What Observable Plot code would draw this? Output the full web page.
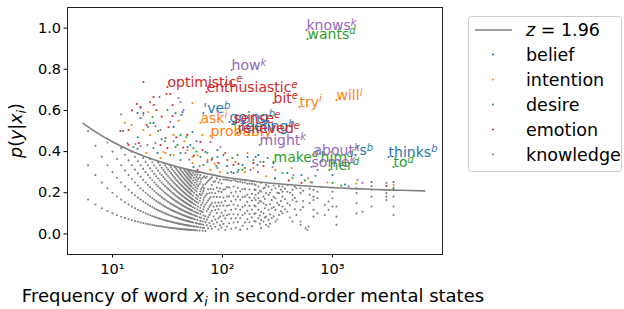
<!DOCTYPE html>
<html><head><meta charset="utf-8">
<script src="https://cdn.jsdelivr.net/npm/d3@7"></script>
<script src="https://cdn.jsdelivr.net/npm/@observablehq/plot@0.6"></script>
<style>
body{margin:0;background:#fff;font-family:"DejaVu Sans",sans-serif;}
#wrap{position:relative;width:624px;height:309px;}
</style></head><body><div id="wrap"></div>
<script>
const categories = ["belief","intention","desire","emotion","knowledge"];
const categoryColors = ["#1f77b4","#ff7f0e","#2ca02c","#d62728","#9467bd"];
const categoryMarks = ["b","i","d","e","k"];

const xTicks = [10, 100, 1000];
const xTickLabels = ["10¹", "10²", "10³"];
const yTicks = [0, 0.2, 0.4, 0.6, 0.8, 1.0];

// z = 1.96 threshold curve
const thresholdFreq = [5.4, 7, 10, 15, 20, 30, 50, 75, 100, 150, 200, 300, 500, 750, 1000, 1500, 2000, 3000, 5000, 6900];
const thresholdP = [0.537, 0.496, 0.448, 0.402, 0.375, 0.343, 0.311, 0.291, 0.278, 0.264, 0.255, 0.245, 0.235, 0.229, 0.225, 0.220, 0.218, 0.214, 0.211, 0.209];

// grey (non-significant) words: frequency and the highest count present for low frequencies
const graySmallFreq = [6,7,8,9,10,11,12,13,14,15,16,17,18,19,20,21,22,23,24,25,26,27,28,29,30,31,32,33,34,35,36,37,38,39,40,41,42,43,44,45,46,47,48,49,50,51,52];
const graySmallMaxCount = [3,3,3,4,4,4,5,5,5,6,6,6,6,7,7,7,8,8,8,8,9,9,9,10,10,10,10,11,11,11,11,12,12,12,12,13,13,13,13,14,14,14,15,15,15,15,16];
const grayMidCounts = [
  "53:1,3,4,6,8,9,11,13,15","54:2,3,5,7,9,10,12,14,16","55:1,2,4,6,8,11,13,15","56:2,4,5,7,9,12,14,16",
  "57:1,3,5,6,8,10,13,15,17","58:2,3,6,9,11,12,14,16","59:1,4,5,7,10,13,15,17","60:2,3,6,8,9,11,14,16,18",
  "62:1,3,5,7,10,12,15,17","63:2,4,6,8,11,13,16,18","64:3,5,7,9,12,14,17","66:1,2,4,7,10,13,15,18",
  "67:3,6,8,11,14,16","68:2,5,9,12,15,19","70:1,4,6,10,13,17,19","72:3,5,8,11,14,18,20",
  "74:2,6,9,12,16,19","76:4,7,10,13,15,20","78:3,8,11,14,17,21","80:2,5,9,12,16,19,22",
  "83:4,7,11,15,18,21","86:3,6,10,13,17,22","89:5,9,12,16,20,24","92:2,7,11,14,19,23",
  "95:4,8,13,17,21,25","98:3,6,10,15,20,24","102:5,9,14,18,22,27","106:2,8,12,17,23,28",
  "110:4,10,15,20,25,29","115:6,11,16,21,26,30","120:3,9,14,19,24,31","126:7,12,18,23,29,33",
  "132:4,10,16,22,27,34","138:8,13,19,25,31,35","145:3,11,17,24,30,37","152:6,14,20,27,33,38",
  "160:9,16,22,29,35,40","168:4,12,19,26,32,41","176:10,17,24,31,38,43","185:7,15,22,30,36,45",
  "195:12,19,27,34,42,47"
];
const grayHighPoints = [
  [200,.238],[200,.214],[200,.189],[200,.165],[200,.133],[200,.1],[200,.06],
  [212,.23],[212,.198],[212,.173],[212,.149],[212,.117],[212,.076],
  [218,.21],[218,.16],[218,.09],[218,.05],
  [224,.248],[224,.205],[224,.157],[224,.108],[224,.068],[224,.028],
  [236,.222],[236,.181],[236,.149],[236,.1],[236,.06],
  [243,.225],[243,.17],[243,.125],[243,.08],
  [249,.238],[249,.198],[249,.141],[249,.084],[249,.044],
  [262,.23],[262,.189],[262,.117],[262,.068],[262,.036],
  [270,.2],[270,.145],[270,.095],[270,.05],
  [280,.214],[280,.165],[280,.125],[280,.076],
  [292,.235],[292,.18],[292,.13],[292,.085],
  [303,.222],[303,.173],[303,.117],[303,.06],
  [315,.2],[315,.15],[315,.07],
  [326,.232],[326,.198],[326,.141],[326,.092],
  [340,.215],[340,.16],[340,.11],
  [351,.23],[351,.205],[351,.181],[351,.133],[351,.1],
  [370,.22],[370,.17],[370,.12],
  [389,.238],[389,.205],[389,.149],[389,.108],
  [410,.2],[410,.14],[410,.08],
  [433,.214],[433,.189],[433,.165],[433,.06],
  [455,.23],[455,.175],[455,.12],
  [470,.222],[470,.157],[470,.092],
  [512,.222],[512,.198],[512,.117],[512,.06],[512,.044],
  [540,.21],[540,.16],[540,.13],
  [569,.028],[590,.019],[605,.036],
  [620,.22],[620,.19],[620,.15],
  [672,.214],[672,.181],[672,.165],[672,.117],[672,.084],
  [731,.205],[731,.173],[731,.1],
  [850,.141],[850,.092],[920,.157],[920,.117],
  [1000,.205],[1000,.173],[1000,.133],
  [1087,.133],[1087,.084],[1087,.044],
  [1652,.222],[1652,.198],[1652,.149],[1652,.1],
  [1874,.108],
  [2264,.214],[2264,.181],[2264,.133],
  [3093,.214],[3093,.198],[3093,.181],[3093,.165],
  [3590,.214],[3590,.181],[3590,.133],[3590,.092]
];

// significant words per category: [frequency, p]
const beliefPoints = [[16.9,.587],[42.4,.578],[18,.563],[19.1,.587],[43.3,.592],[23.6,.539],[53.4,.495],[51.1,.432],[70,.398],[90,.374],[169,.374],[291,.345],[16.9,.414],[48,.422],[90,.408],[152,.335],[212,.383],[25.7,.393],[54.5,.325],[126,.296],[208,.335],[389,.296],[522,.286],[1000,.286],[2264,.252],[3590,.252],[200,.374],[12.5,.5],[28,.46],[36,.52],[58,.45],[110,.33],[140,.31],[300,.27],[650,.25],[1300,.24]];
const intentionPoints = [[24.1,.626],[19.1,.578],[14.9,.529],[21.2,.592],[53.4,.636],[19.1,.505],[35.9,.481],[65.8,.481],[29.1,.398],[48,.408],[53.4,.374],[73,.359],[131,.35],[191,.32],[30.3,.393],[35.9,.383],[59.3,.383],[111,.359],[169,.393],[20.4,.393],[27.3,.369],[53.4,.345],[77.7,.311],[303,.311],[424,.32],[631,.252],[3590,.238],[13,.54],[22,.48],[40,.55],[45,.45],[85,.34],[95,.3],[160,.3],[250,.28],[900,.25],[1650,.245]];
const desirePoints = [[37.4,.587],[23.1,.568],[31.6,.602],[22.1,.539],[41.5,.481],[38.9,.432],[41.5,.393],[63,.374],[137,.383],[257,.369],[152,.311],[15.5,.422],[23.6,.417],[37.4,.422],[54.5,.417],[73,.393],[81,.369],[102,.383],[123,.369],[137,.301],[191,.359],[33.6,.383],[41.5,.359],[67.2,.335],[111,.296],[236,.35],[351,.296],[433,.272],[1000,.248],[3590,.223],[17,.47],[26,.5],[30,.45],[47,.47],[58,.4],[88,.33],[160,.32],[300,.27],[560,.26],[1200,.235]];
const emotionPoints = [[19.1,.738],[23.6,.665],[31,.68],[33.6,.68],[16.6,.631],[25.1,.602],[35.1,.573],[20.4,.529],[18,.617],[35.1,.626],[14,.505],[11.8,.5],[48,.481],[63,.447],[30.3,.466],[106,.393],[191,.345],[17.4,.442],[14,.432],[27.3,.432],[31.6,.417],[65.8,.408],[92,.345],[126,.335],[59.3,.311],[236,.33],[522,.248],[3093,.233],[32.3,.519],[15,.6],[22,.64],[28,.57],[38,.47],[44,.42],[55,.38],[80,.36],[140,.34],[400,.26]];
const knowledgePoints = [[26.7,.665],[39.8,.66],[18,.612],[44.2,.602],[24.6,.524],[41.5,.64],[23.6,.626],[27.3,.505],[33.6,.544],[77.7,.447],[24.6,.442],[96,.422],[111,.359],[221,.35],[285,.325],[90,.32],[13.7,.44],[16.2,.437],[18,.427],[20.8,.432],[46.1,.393],[73,.35],[180,.311],[442,.286],[700,.282],[731,.311],[1688,.262],[1874,.248],[2264,.233],[3093,.248],[12,.58],[21,.52],[36,.45],[50,.36],[62,.33],[120,.3],[210,.3],[600,.27],[1400,.23]];

// labelled words
const labelWords = ["knows","wants","how","optimistic","enthusiastic","bit","try","will","'ve","ask","going","sense","probably","feeling","relieved","might","make","him","some","about","'s","her","thinks","to"];
const labelCategory = ["knowledge","desire","knowledge","emotion","emotion","emotion","intention","intention","belief","intention","belief","emotion","intention","belief","emotion","knowledge","desire","desire","knowledge","knowledge","belief","desire","belief","desire"];
const labelFreq = [580,593,121,31.6,71.6,291,501,1088,67,63,116,126,78,146,137,217,291,780,645,672,1620,940,3236,3590];
const labelP = [0.99,0.947,0.796,0.714,0.689,0.636,0.617,0.65,0.587,0.539,0.544,0.539,0.476,0.50,0.49,0.432,0.35,0.35,0.325,0.383,0.383,0.311,0.374,0.325];

// ---- build tables ----
const gray = [];
graySmallFreq.forEach((n, i) => { for (let k = 1; k <= graySmallMaxCount[i]; k++) gray.push({n, p: k / n}); });
grayMidCounts.forEach(s => { const [n, ks] = s.split(":"); ks.split(",").forEach(k => gray.push({n: +n, p: +k / +n})); });
grayHighPoints.forEach(([n, p]) => gray.push({n, p}));

const colored = [];
[["belief", beliefPoints], ["intention", intentionPoints], ["desire", desirePoints], ["emotion", emotionPoints], ["knowledge", knowledgePoints]]
  .forEach(([cat, pts]) => pts.forEach(([n, p]) => colored.push({n, p, cat})));

const threshold = thresholdFreq.map((n, i) => ({n, p: thresholdP[i]}));
const labels = labelWords.map((w, i) => ({word: w, cat: labelCategory[i], n: labelFreq[i], p: labelP[i],
  mark: categoryMarks[categories.indexOf(labelCategory[i])]}));

const plot = Plot.plot({
  width: 624, height: 309,
  marginLeft: 67, marginRight: 182, marginTop: 7, marginBottom: 55,
  style: {fontFamily: "DejaVu Sans", fontSize: "14px", background: "white", color: "black"},
  x: {type: "log", domain: [3.9, 10000]},
  y: {domain: [-0.1, 1.1]},
  color: {domain: categories, range: categoryColors},
  marks: [
    Plot.dot(gray, {x: "n", y: "p", r: 1.05, fill: "#808080", stroke: null}),
    Plot.dot(colored, {x: "n", y: "p", r: 1.05, fill: "cat", stroke: null}),
    Plot.line(threshold, {x: "n", y: "p", stroke: "#808080", strokeWidth: 1.6, curve: "monotone-x"}),
    Plot.dot(labels, {x: "n", y: "p", r: 1.05, fill: "cat", stroke: null}),
    Plot.text(labels, {x: "n", y: "p", text: d => d.word + "^" + d.mark, fill: "cat",
      textAnchor: "start", lineAnchor: "bottom", fontSize: 14}),
    Plot.axisX({ticks: xTicks, tickFormat: d => xTickLabels[xTicks.indexOf(d)], tickSize: 3.5, tickPadding: 6, label: null, fontSize: 14.5}),
    Plot.axisY({ticks: yTicks, tickFormat: d3.format(".1f"), tickSize: 3.5, tickPadding: 3, label: null, fontSize: 14.5}),
    Plot.frame({stroke: "#222", strokeWidth: 1})
  ]
});
document.getElementById("wrap").appendChild(plot);

const svg = d3.select(plot);
// superscripts on word labels
svg.selectAll("text").each(function () {
  const t = this.textContent;
  if (!t.includes("^")) return;
  const [w, s] = t.split("^");
  this.textContent = w;
  d3.select(this).append("tspan").attr("dy", "-0.45em").attr("font-size", "10px").attr("font-style", "italic").text(s);
});

// y label  p(y|x_i)
const yl = svg.append("text").attr("transform", "translate(22,130.5) rotate(-90)")
  .attr("text-anchor", "middle").attr("font-size", 17.5).attr("fill", "black");
yl.append("tspan").attr("font-style", "italic").text("p");
yl.append("tspan").text("(");
yl.append("tspan").attr("font-style", "italic").text("y");
yl.append("tspan").text("|");
yl.append("tspan").attr("font-style", "italic").text("x");
yl.append("tspan").attr("font-style", "italic").attr("font-size", 12.5).attr("dy", 4).text("i");
yl.append("tspan").attr("dy", -4).text(")");

// x label
const xl = svg.append("text").attr("x", 253).attr("y", 302).attr("text-anchor", "middle")
  .attr("font-size", 18).attr("fill", "black").style("white-space", "pre");
xl.append("tspan").text("Frequency of word ");
xl.append("tspan").attr("font-style", "italic").text("x");
xl.append("tspan").attr("font-style", "italic").attr("font-size", 12.5).attr("dy", 4).text("i");
xl.append("tspan").attr("dy", -4).text(" in second-order mental states");

// legend
const lg = svg.append("g").attr("font-size", 17.5).attr("fill", "black").attr("text-anchor", "start");
lg.append("rect").attr("x", 468.5).attr("y", 16.5).attr("width", 153).attr("height", 155).attr("rx", 3)
  .attr("fill", "white").attr("fill-opacity", 0.8).attr("stroke", "#cccccc");
lg.append("line").attr("x1", 475).attr("x2", 512).attr("y1", 30).attr("y2", 30)
  .attr("stroke", "#808080").attr("stroke-width", 1.6);
const zt = lg.append("text").attr("x", 526).attr("y", 36).attr("text-anchor", "start").style("white-space", "pre");
zt.append("tspan").attr("font-style", "italic").text("z");
zt.append("tspan").text(" = 1.96");
categories.forEach((c, i) => {
  lg.append("circle").attr("cx", 493).attr("cy", 54.5 + 25 * i).attr("r", 1).attr("fill", categoryColors[i]);
  lg.append("text").attr("x", 526).attr("y", 61 + 25 * i).attr("text-anchor", "start").text(c);
});
</script></body></html>
